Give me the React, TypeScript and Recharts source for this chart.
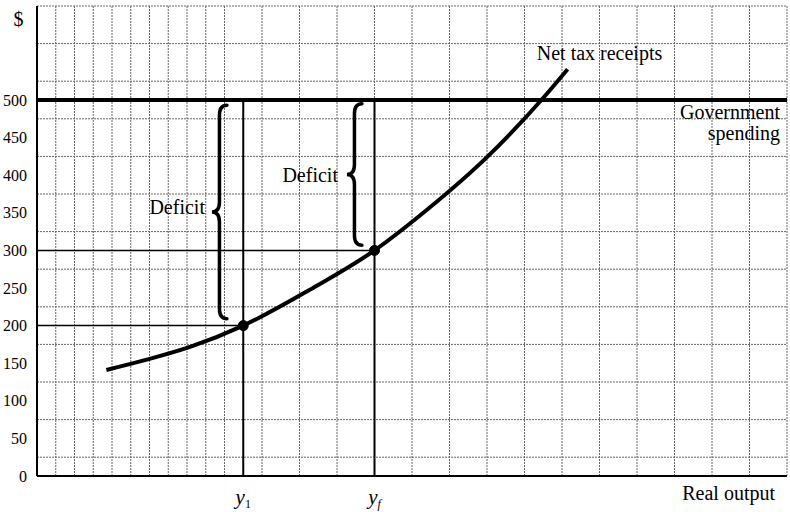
import {
  CartesianGrid,
  ComposedChart,
  Line,
  ReferenceArea,
  ReferenceDot,
  ReferenceLine,
  XAxis,
  YAxis,
} from "recharts";

// net tax receipts curve (x in grid squares)
const OUTPUT = [3.7, 5.9, 8.2, 11, 14.5, 18, 20.8, 24, 26.9, 28.3];
const TAX = [141, 155, 172, 200, 247, 300, 354, 424, 500, 541];

const Y_TICKS = [0, 50, 100, 150, 200, 250, 300, 350, 400, 450, 500];
const GOV_SPENDING = 500;
const Y1 = 11;
const YF = 18;
const TAX_AT_Y1 = 200;
const TAX_AT_YF = 300;

const X_MAX = 40;
const Y_MAX = 625;

const data = OUTPUT.map((x, i) => ({ x, tax: TAX[i] }));
const gridX = Array.from({ length: X_MAX + 1 }, (_, i) => i);
const gridY = Array.from({ length: Y_MAX / 25 + 1 }, (_, i) => i * 25);

const SERIF = "'Liberation Serif', 'Times New Roman', serif";

function Brace(props: any) {
  const { x, y, width: w, height: h } = props;
  const xs = x + w * 0.5;
  const ym = y + h / 2;
  const q = 10;
  const d = [
    `M ${x + w} ${y}`,
    `Q ${xs} ${y} ${xs} ${y + q}`,
    `L ${xs} ${ym - q}`,
    `Q ${xs} ${ym} ${x} ${ym}`,
    `Q ${xs} ${ym} ${xs} ${ym + q}`,
    `L ${xs} ${y + h - q}`,
    `Q ${xs} ${y + h} ${x + w} ${y + h}`,
  ].join(" ");
  return <path d={d} fill="none" stroke="#000" strokeWidth={3.5} strokeLinecap="round" />;
}

function OutputTick(props: any) {
  const { x, y, payload } = props;
  const sub = payload.value === Y1 ? "1" : "f";
  return (
    <text x={x} y={y + 26} textAnchor="middle" fontSize={21} fill="#000" fontFamily={SERIF}>
      <tspan fontStyle="italic">y</tspan>
      <tspan fontSize={12} dy={4} fontStyle={sub === "f" ? "italic" : "normal"}>
        {sub}
      </tspan>
    </text>
  );
}

function GovLabel(props: any) {
  const { viewBox } = props;
  const right = viewBox.x + viewBox.width - 7;
  return (
    <text textAnchor="end" fontSize={20} fill="#000" fontFamily={SERIF}>
      <tspan x={right} y={viewBox.y + 19}>Government</tspan>
      <tspan x={right} y={viewBox.y + 40}>spending</tspan>
    </text>
  );
}

const labelText = { fontSize: 20, fill: "#000", fontFamily: SERIF };

export default function App() {
  return (
    <div style={{ position: "absolute", left: 0, top: 0, width: 790, height: 512, background: "#fff", fontFamily: SERIF }}>
      <ComposedChart width={790} height={512} data={data} margin={{ top: 6, right: 3, left: 0, bottom: 0 }}>
        <CartesianGrid
          horizontalValues={gridY}
          verticalValues={gridX}
          stroke="#666"
          strokeDasharray="2 1"
        />
        <XAxis
          dataKey="x"
          type="number"
          domain={[0, X_MAX]}
          ticks={[Y1, YF]}
          height={36}
          tickLine={false}
          tickSize={0}
          axisLine={{ stroke: "#000", strokeWidth: 2 }}
          tick={<OutputTick />}
          label={{ value: "Real output", position: "insideBottomRight", offset: 12, ...labelText }}
        />
        <YAxis
          type="number"
          domain={[0, Y_MAX]}
          ticks={Y_TICKS}
          width={37}
          tickLine={false}
          tickSize={0}
          tickMargin={10}
          axisLine={{ stroke: "#000", strokeWidth: 2 }}
          tick={{ fill: "#000", fontSize: 16, fontFamily: SERIF }}
          label={{ value: "$", position: "insideTop", offset: 6, ...labelText }}
        />
        <ReferenceLine
          segment={[{ x: 0, y: TAX_AT_Y1 }, { x: Y1, y: TAX_AT_Y1 }]}
          stroke="#000"
          strokeWidth={1.5}
        />
        <ReferenceLine
          segment={[{ x: 0, y: TAX_AT_YF }, { x: YF, y: TAX_AT_YF }]}
          stroke="#000"
          strokeWidth={1.5}
        />
        <ReferenceLine
          segment={[{ x: Y1, y: 0 }, { x: Y1, y: GOV_SPENDING }]}
          stroke="#000"
          strokeWidth={2}
        />
        <ReferenceLine
          segment={[{ x: YF, y: 0 }, { x: YF, y: GOV_SPENDING }]}
          stroke="#000"
          strokeWidth={2}
        />
        <ReferenceLine y={GOV_SPENDING} stroke="#000" strokeWidth={4} label={<GovLabel />} />
        <ReferenceArea
          x1={9.33}
          x2={10.13}
          y1={209}
          y2={493}
          shape={<Brace />}
          label={{ value: "Deficit", position: "left", offset: 7, dy: -5, ...labelText }}
        />
        <ReferenceArea
          x1={16.53}
          x2={17.33}
          y1={307}
          y2={495}
          shape={<Brace />}
          label={{ value: "Deficit", position: "left", offset: 9, ...labelText }}
        />
        <Line
          type="monotone"
          dataKey="tax"
          stroke="#000"
          strokeWidth={4}
          dot={false}
          isAnimationActive={false}
        />
        <ReferenceDot x={Y1} y={TAX_AT_Y1} r={5} fill="#000" stroke="#000" />
        <ReferenceDot x={YF} y={TAX_AT_YF} r={5} fill="#000" stroke="#000" />
        <ReferenceDot
          x={30}
          y={562}
          r={0}
          fill="none"
          stroke="none"
          label={{ value: "Net tax receipts", position: "center", ...labelText }}
        />
      </ComposedChart>
    </div>
  );
}
